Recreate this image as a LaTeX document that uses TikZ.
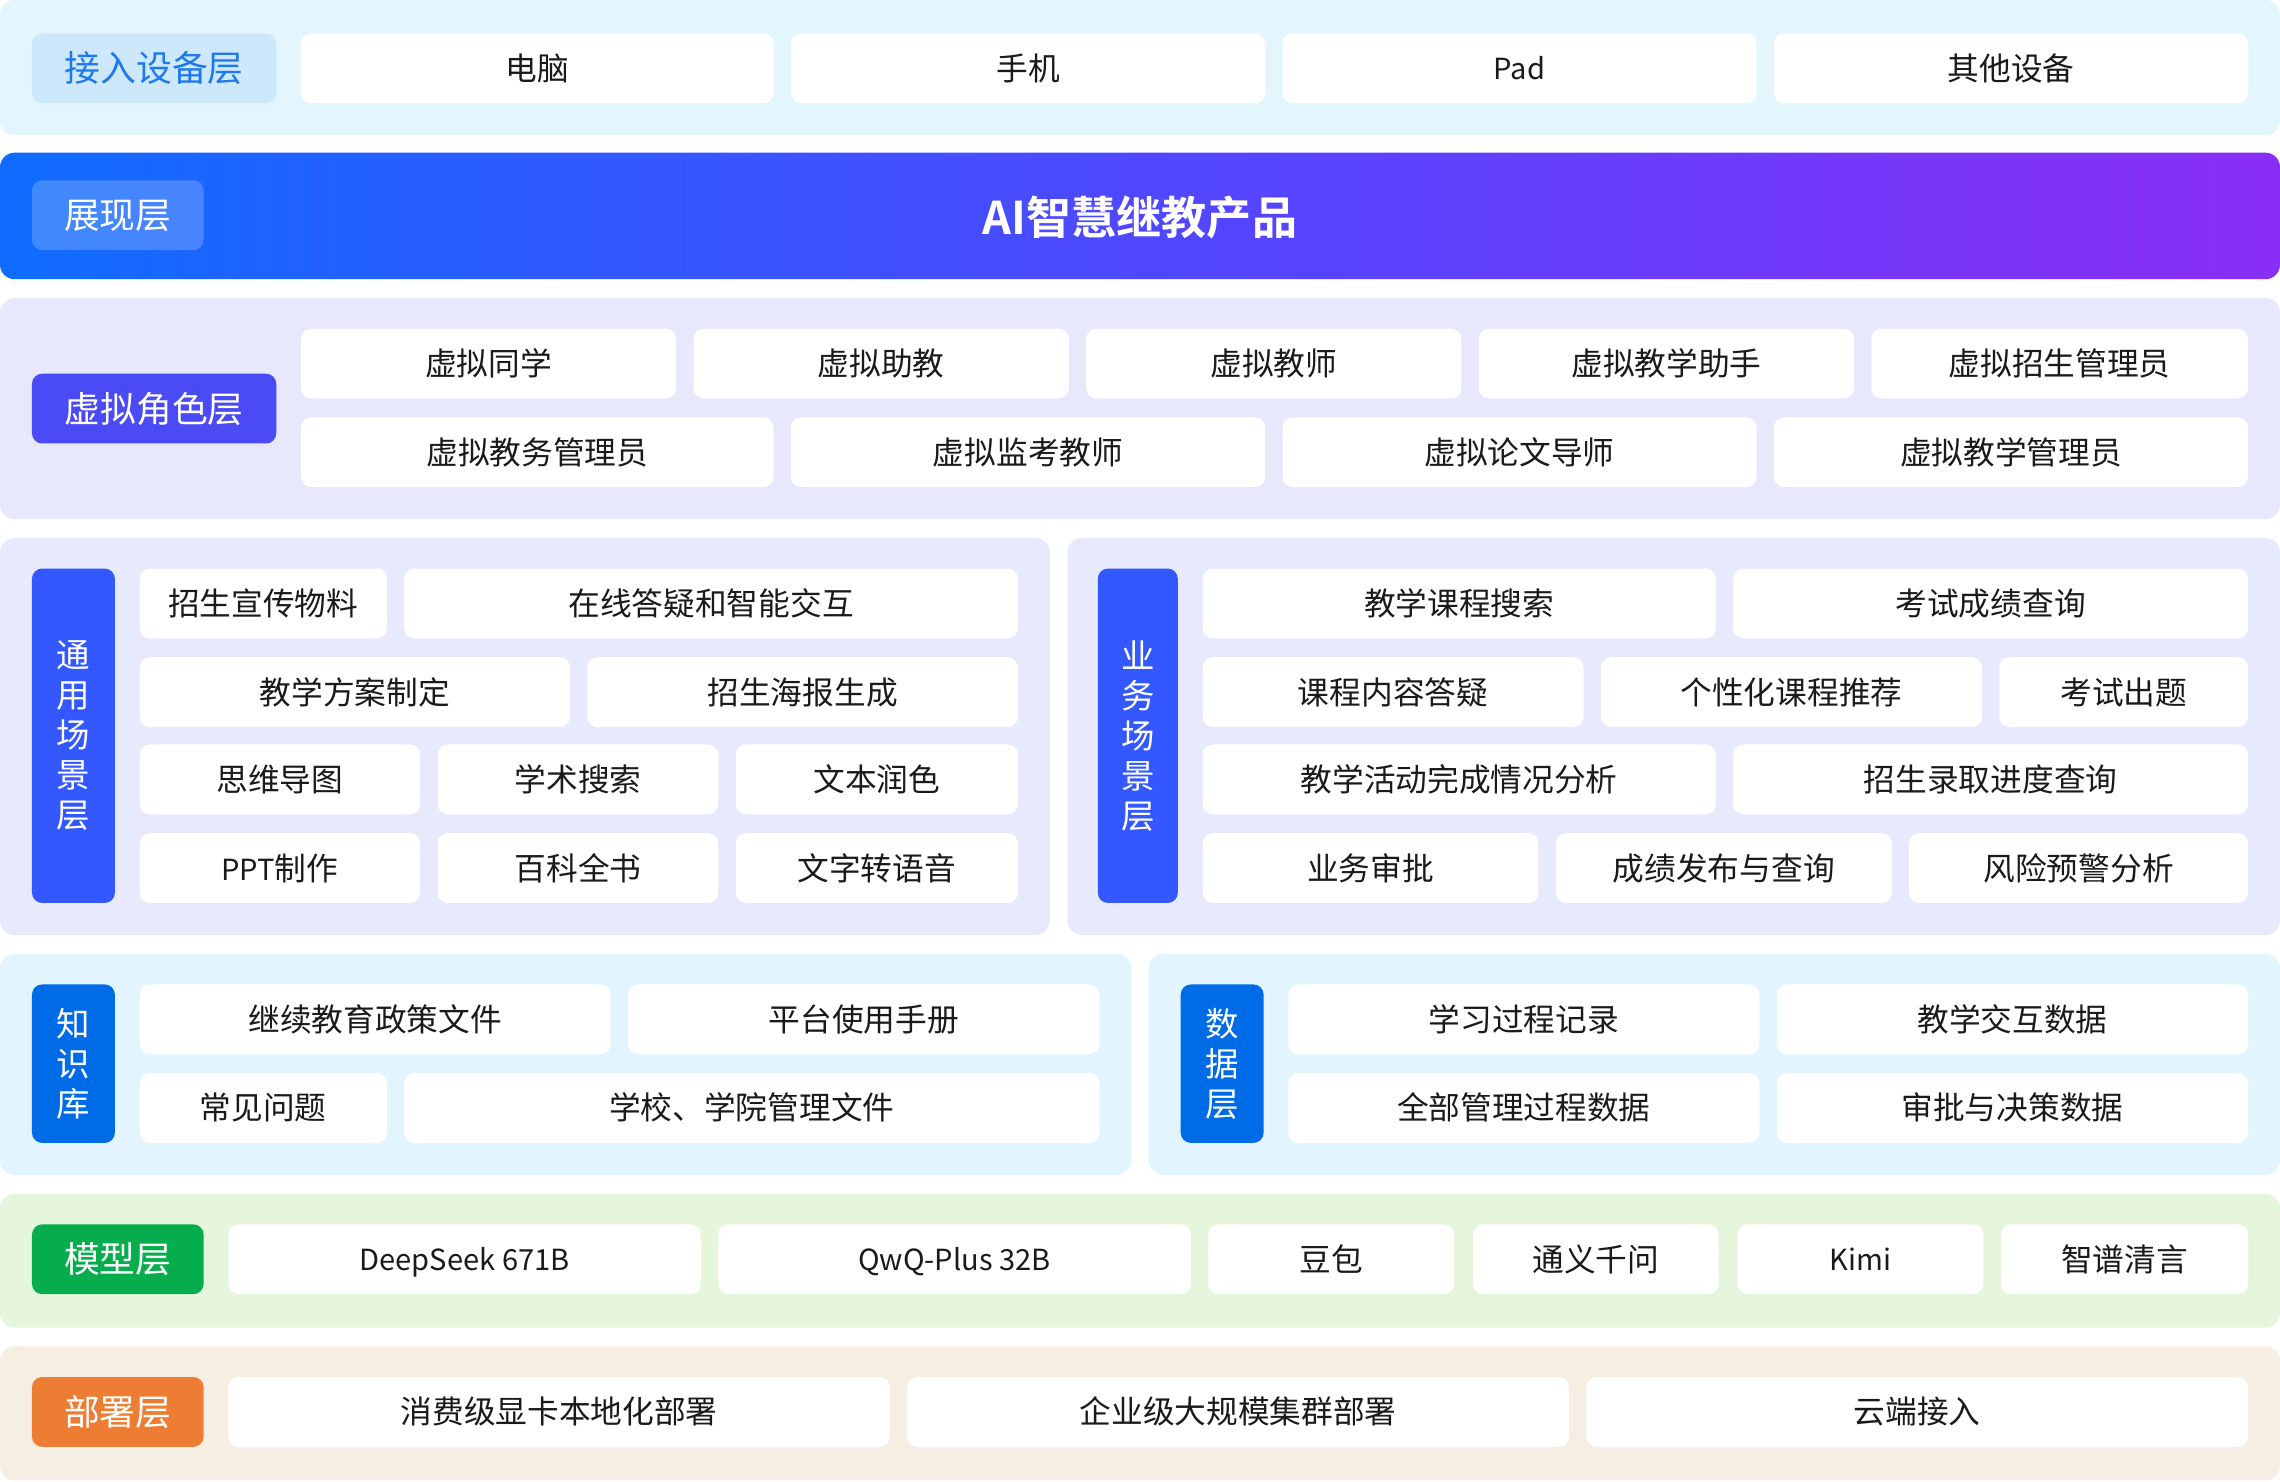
\documentclass[tikz,border=0pt]{standalone}
\usepackage{fontspec}
\setmainfont{Noto Sans CJK SC}
\newfontfamily\boldcjk{Noto Sans CJK SC Bold}
\definecolor{devbg}{HTML}{E3F6FE}
\definecolor{devlab}{HTML}{CDE8FB}
\definecolor{devtxt}{HTML}{1E78EE}
\definecolor{virtbg}{HTML}{E7E8FB}
\definecolor{virtlab}{HTML}{4B4BF6}
\definecolor{scenbg}{HTML}{E6EAFC}
\definecolor{scenlab}{HTML}{3358FF}
\definecolor{kbbg}{HTML}{E2F5FE}
\definecolor{kblab}{HTML}{006BE6}
\definecolor{modbg}{HTML}{E6F6DC}
\definecolor{modlab}{HTML}{06AD4D}
\definecolor{depbg}{HTML}{F6EEE3}
\definecolor{deplab}{HTML}{ED7D32}
\definecolor{gradA}{HTML}{0F6CFE}
\definecolor{gradB}{HTML}{4F48FF}
\definecolor{gradC}{HTML}{8A2EF5}
\definecolor{ink}{HTML}{1A1A1A}
\tikzset{
  panel/.style={rounded corners=10pt, draw=none},
  base/.style={inner sep=0pt, outer sep=0pt, rounded corners=7pt, draw=none, align=center},
  item/.style={base, fill=white, text=ink, font=\fontsize{21.8}{24}\selectfont, text height=19pt, text depth=2.6pt},
  latin/.style={font=\fontsize{20}{24}\selectfont, text height=18.4pt, text depth=3.2pt},
  lab/.style={base, text=white, font=\fontsize{24.6}{27}\selectfont, text height=21.6pt, text depth=3pt},
  vlab/.style={base, text=white, font=\fontsize{23}{27.5}\selectfont},
}
\newcommand\bx[7]{\node[#1,minimum width={(#5-#3)*1pt},minimum height={(#6-#4)*1pt}] (#2) at ({(#3+#5)/2},{(#4+#6)/2}) {#7};}
\begin{document}
\begin{tikzpicture}[x=1pt,y=-1pt]
\useasboundingbox (0,0) rectangle (1568,1019);
% ---- panels
\fill[panel, devbg] (0,0) rectangle (1568,93);
\shade[panel, left color=gradA, right color=gradC, middle color=gradB] (0,105) rectangle (1568,192);
\fill[panel, virtbg] (0,205) rectangle (1568,357);
\fill[panel, scenbg] (0,370) rectangle (722,643);
\fill[panel, scenbg] (734,370) rectangle (1568,643);
\fill[panel, kbbg] (0,656) rectangle (778,808);
\fill[panel, kbbg] (790,656) rectangle (1568,808);
\fill[panel, modbg] (0,821) rectangle (1568,913);
\fill[panel, depbg] (0,926) rectangle (1568,1018);
% ---- access devices
\bx{lab, fill=devlab, text=devtxt}{Ldev}{22}{23}{190}{71}{接入设备层}
\bx{item}{d1}{207}{23}{532}{71}{电脑}
\bx{item}{d2}{544}{23}{870}{71}{手机}
\bx{item, latin}{d3}{882}{23}{1208}{71}{Pad}
\bx{item}{d4}{1220}{23}{1546}{71}{其他设备}
% ---- presentation
\bx{lab, fill=white, fill opacity=0.2, text opacity=1}{Lpre}{22}{124}{140}{172}{展现层}
\node[text=white, font=\boldcjk\fontsize{31}{34}\selectfont, inner sep=0pt] (title) at (784,149.5) {AI智慧继教产品};
% ---- virtual roles
\bx{lab, fill=virtlab}{Lvirt}{22}{257}{190}{305}{虚拟角色层}
\bx{item}{v1}{207}{226}{465}{274}{虚拟同学}
\bx{item}{v2}{477}{226}{735}{274}{虚拟助教}
\bx{item}{v3}{747}{226}{1005}{274}{虚拟教师}
\bx{item}{v4}{1017}{226}{1275}{274}{虚拟教学助手}
\bx{item}{v5}{1287}{226}{1546}{274}{虚拟招生管理员}
\bx{item}{v6}{207}{287}{532}{335}{虚拟教务管理员}
\bx{item}{v7}{544}{287}{870}{335}{虚拟监考教师}
\bx{item}{v8}{882}{287}{1208}{335}{虚拟论文导师}
\bx{item}{v9}{1220}{287}{1546}{335}{虚拟教学管理员}
% ---- general scenarios
\bx{vlab, fill=scenlab}{Lgen}{22}{391}{79}{621}{通\\用\\场\\景\\层}
\bx{item}{g1}{96}{391}{266}{439}{招生宣传物料}
\bx{item}{g2}{278}{391}{700}{439}{在线答疑和智能交互}
\bx{item}{g3}{96}{452}{392}{500}{教学方案制定}
\bx{item}{g4}{404}{452}{700}{500}{招生海报生成}
\bx{item}{g5}{96}{512}{289}{560}{思维导图}
\bx{item}{g6}{301}{512}{494}{560}{学术搜索}
\bx{item}{g7}{506}{512}{700}{560}{文本润色}
\bx{item}{g8}{96}{573}{289}{621}{{\fontsize{20}{24}\selectfont PPT}制作}
\bx{item}{g9}{301}{573}{494}{621}{百科全书}
\bx{item}{g10}{506}{573}{700}{621}{文字转语音}
% ---- business scenarios
\bx{vlab, fill=scenlab}{Lbiz}{755}{391}{810}{621}{业\\务\\场\\景\\层}
\bx{item}{b1}{827}{391}{1180}{439}{教学课程搜索}
\bx{item}{b2}{1192}{391}{1546}{439}{考试成绩查询}
\bx{item}{b3}{827}{452}{1089}{500}{课程内容答疑}
\bx{item}{b4}{1101}{452}{1363}{500}{个性化课程推荐}
\bx{item}{b5}{1375}{452}{1546}{500}{考试出题}
\bx{item}{b6}{827}{512}{1180}{560}{教学活动完成情况分析}
\bx{item}{b7}{1192}{512}{1546}{560}{招生录取进度查询}
\bx{item}{b8}{827}{573}{1058}{621}{业务审批}
\bx{item}{b9}{1070}{573}{1301}{621}{成绩发布与查询}
\bx{item}{b10}{1313}{573}{1546}{621}{风险预警分析}
% ---- knowledge base
\bx{vlab, fill=kblab}{Lkb}{22}{677}{79}{786}{知\\识\\库}
\bx{item}{k1}{96}{677}{420}{725}{继续教育政策文件}
\bx{item}{k2}{432}{677}{756}{725}{平台使用手册}
\bx{item}{k3}{96}{738}{266}{786}{常见问题}
\bx{item}{k4}{278}{738}{756}{786}{学校、学院管理文件}
% ---- data layer
\bx{vlab, fill=kblab}{Ldata}{812}{677}{869}{786}{数\\据\\层}
\bx{item}{t1}{886}{677}{1210}{725}{学习过程记录}
\bx{item}{t2}{1222}{677}{1546}{725}{教学交互数据}
\bx{item}{t3}{886}{738}{1210}{786}{全部管理过程数据}
\bx{item}{t4}{1222}{738}{1546}{786}{审批与决策数据}
% ---- models
\bx{lab, fill=modlab}{Lmod}{22}{842}{140}{890}{模型层}
\bx{item, latin}{m1}{157}{842}{482}{890}{DeepSeek 671B}
\bx{item, latin}{m2}{494}{842}{819}{890}{QwQ-Plus 32B}
\bx{item}{m3}{831}{842}{1000}{890}{豆包}
\bx{item}{m4}{1013}{842}{1182}{890}{通义千问}
\bx{item, latin}{m5}{1195}{842}{1364}{890}{Kimi}
\bx{item}{m6}{1376}{842}{1546}{890}{智谱清言}
% ---- deployment
\bx{lab, fill=deplab}{Ldep}{22}{947}{140}{995}{部署层}
\bx{item}{p1}{157}{947}{612}{995}{消费级显卡本地化部署}
\bx{item}{p2}{624}{947}{1079}{995}{企业级大规模集群部署}
\bx{item}{p3}{1091}{947}{1546}{995}{云端接入}
\end{tikzpicture}
\end{document}
